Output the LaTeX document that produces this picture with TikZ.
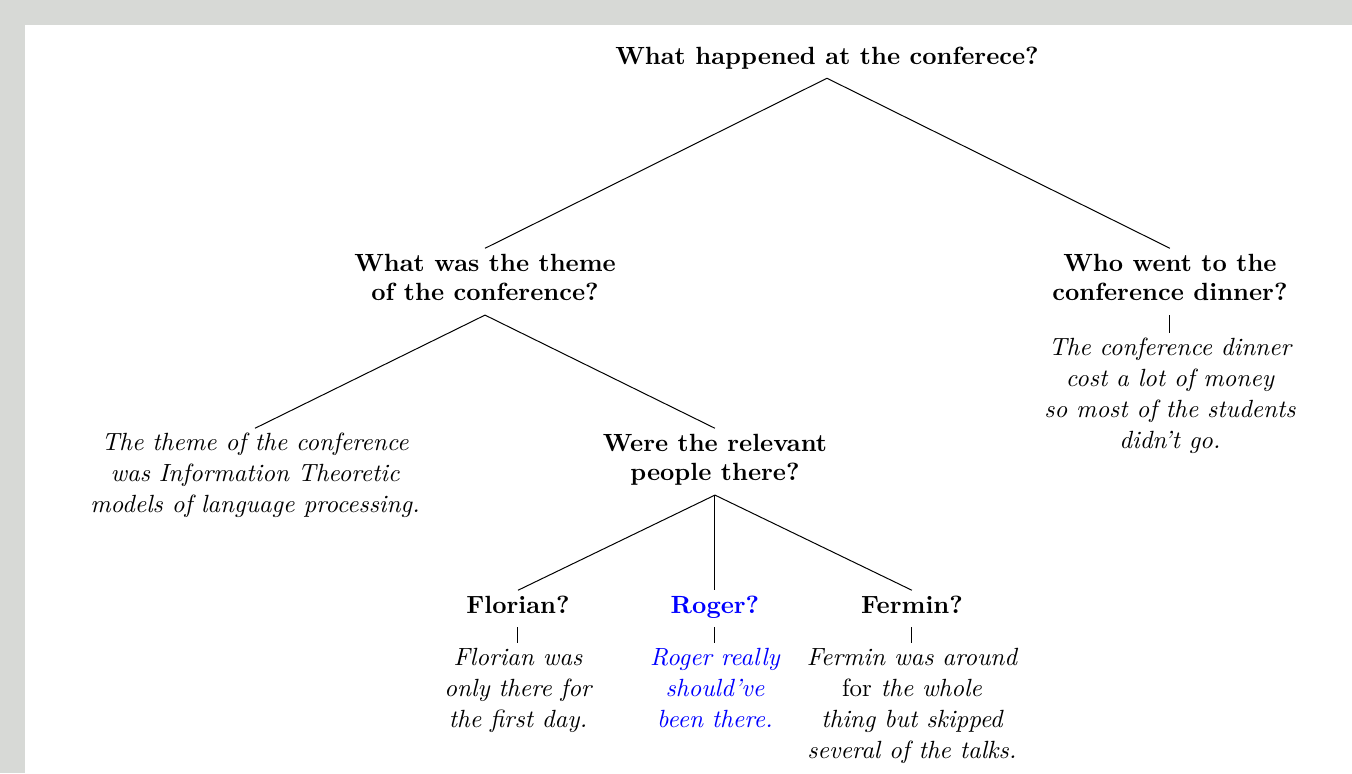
\documentclass[tikz,border=0pt]{standalone}
\usepackage{xcolor}
\definecolor{marco}{HTML}{D7D9D6}
\begin{document}
\begin{tikzpicture}[scale=0.988]
        % Estilo de los nodos
        \tikzset{question/.style={font=\bfseries, align=center, inner ysep=2pt,
                   execute at end node={\rule[-3.5pt]{0pt}{0pt}}},
                 answer/.style={font=\itshape\fontsize{10}{12.5}\selectfont, align=center, inner ysep=1.7pt}}

        % --- FONDO ---
        \fill[marco] (0,0) rectangle (19.32,11.05);
        \fill[white] (0.357,0) rectangle (19.32,10.69);
        \useasboundingbox (0,0) rectangle (19.32,11.05);

        % --- PREGUNTAS ---
        \node[question, anchor=south] (root) at (11.818, 9.932) {What happened at the conferece?};
        \node[question, anchor=north] (theme) at (6.931, 7.502) {What was the theme\\of the conference?};
        \node[question, anchor=north] (dinner) at (16.719, 7.502) {Who went to the\\conference dinner?};
        \node[question, anchor=north] (relevant) at (10.217, 4.930) {Were the relevant\\people there?};
        \node[question, anchor=north] (florian) at (7.402, 2.615) {Florian?};
        \node[question, anchor=north, blue] (roger) at (10.217, 2.615) {Roger?};
        \node[question, anchor=north] (fermin) at (13.032, 2.615) {Fermin?};

        % --- RESPUESTAS ---
        \node[answer, anchor=north] (themeans) at (3.644, 4.930) {The theme of the conference\\was Information Theoretic\\models of language processing.};
        \node[answer, anchor=north] (dinnerans) at (16.719, 6.288) {The conference dinner\\cost a lot of money\\so most of the students\\didn't go.};
        \node[answer, anchor=north] (florianans) at (7.402, 1.858) {Florian was\\only there for\\the first day.};
        \node[answer, anchor=north, blue] (rogerans) at (10.217, 1.858) {Roger really\\should've\\been there.};
        \node[answer, anchor=north] (fermintans) at (13.032, 1.858) {Fermin was around\\\textup{for} the whole\\thing but skipped\\several of the talks.};

        % --- RAMAS ---
        \draw (root.south) -- (theme.north);
        \draw (root.south) -- (dinner.north);
        \draw (theme.south) -- (themeans.north);
        \draw (theme.south) -- (relevant.north);
        \draw (dinner.south) -- (dinnerans.north);
        \draw (relevant.south) -- (florian.north);
        \draw (relevant.south) -- (roger.north);
        \draw (relevant.south) -- (fermin.north);
        \draw (florian.south) -- (florianans.north);
        \draw (roger.south) -- (rogerans.north);
        \draw (fermin.south) -- (fermintans.north);
\end{tikzpicture}
\end{document}
